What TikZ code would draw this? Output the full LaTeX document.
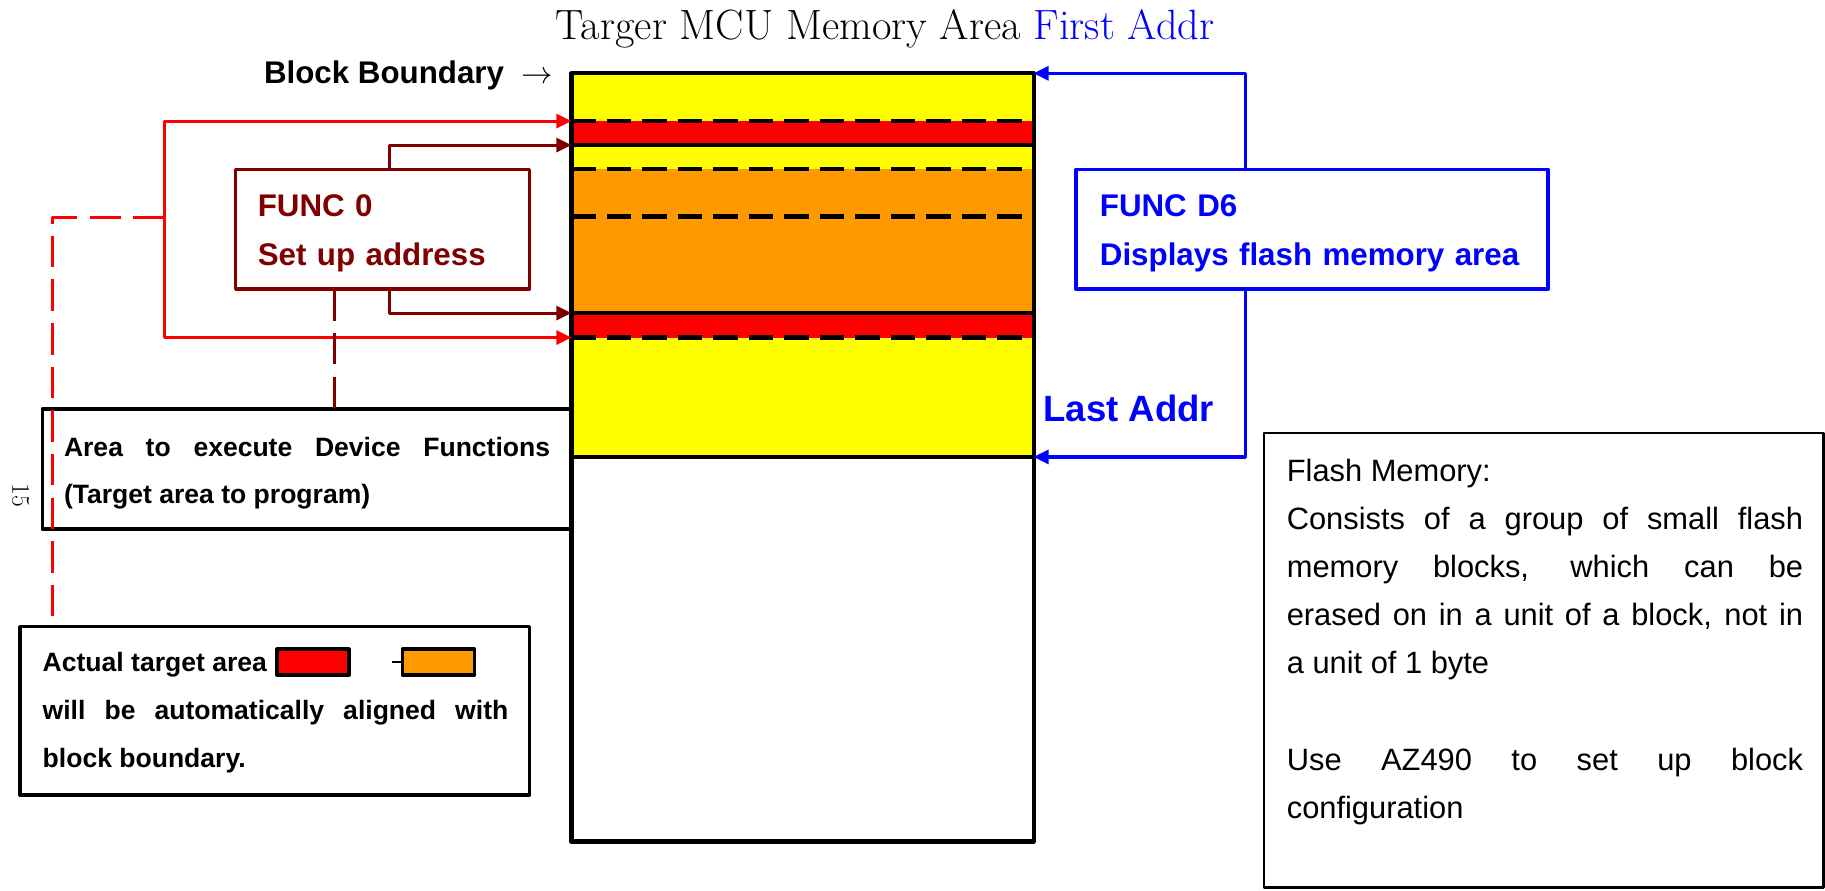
\documentclass[tikz,border=0pt]{standalone}
\usepackage{fix-cm}
\usepackage{fontspec}
\newfontfamily\arial{Liberation Sans}
\usetikzlibrary{arrows.meta}
\definecolor{memyellow}{RGB}{255,255,0}
\definecolor{memred}{RGB}{255,0,0}
\definecolor{memorange}{RGB}{255,153,0}
\definecolor{funcred}{RGB}{128,0,0}
\definecolor{funcblue}{RGB}{0,0,255}
\tolerance=10000
\hbadness=10000

\begin{document}
\begin{tikzpicture}[x=1pt, y=-1pt, line join=round,
    frame/.style={draw, line width=3pt, inner sep=0pt, outer sep=0pt, anchor=north west},
    bigsans/.style={font=\arial\bfseries\fontsize{26.9}{41.7}\selectfont, inner sep=0pt, outer sep=0pt, anchor=base west},
    smallsans/.style={font=\arial\bfseries\fontsize{22.8}{40.6}\selectfont, inner sep=0pt, outer sep=0pt, anchor=base west},
    tip/.style={-{Triangle[length=13pt,width=12pt]}},
    longdash/.style={dash pattern=on 27pt off 10.5pt},
    bound/.style={line width=3.5pt, dash pattern=on 21pt off 9.5pt}]
    \fill[white] (0,0) rectangle (1568,765);
    \useasboundingbox (0,0) rectangle (1568,765);
    %\draw[help lines, step=100] (0,0) grid (1568,765);

    \coordinate (b1) at (491,104);
    \coordinate (b2) at (491,124.6);
    \coordinate (b3) at (491,269);
    \coordinate (b4) at (491,290);
    \coordinate (rj) at (141.5,186.6);
    \coordinate (first) at (888,63);
    \coordinate (lastc) at (888,392.6);

    % memory area
    \foreach \ya/\yb/\c in {63/392.6/memyellow, 104/124.6/memred, 145/269/memorange, 269/290/memred}
        \fill[\c] (491,\ya) rectangle (888,\yb);
    \foreach \y in {104,145,186,290}
        \draw[bound] (491,\y) -- (888,\y);
    \foreach \y in {124.6,269,392.6}
        \draw[line width=3.5pt] (491,\y) -- (888,\y);
    \node[frame, line width=3.5pt, minimum width=397pt, minimum height=660pt] (mem) at (491,63) {};

    \node[font=\fontsize{36.4}{40}\selectfont, anchor=base, inner sep=0pt] (title) at (760.5,33.8)
        {Targer MCU Memory Area \textcolor{funcblue}{First Addr}};
    \node[bigsans, anchor=base east] (bb) at (475,71.5) {Block Boundary\hspace{15pt}$\rightarrow$};

    % boxes
    \node[frame, draw=funcred, minimum width=252.5pt, minimum height=103pt] (f0) at (202.5,145.5) {};
    \node[frame, draw=funcblue, minimum width=405.4pt, minimum height=103pt] (d6) at (924.6,145.5) {};
    \node[frame, minimum width=454.7pt, minimum height=103pt] (area) at (36.3,351.6) {};
    \node[frame, minimum width=438pt, minimum height=144.6pt] (leg) at (17,538.4) {};
    \node[frame, line width=2.5pt, minimum width=480.5pt, minimum height=390.8pt] (flash) at (1086,372) {};

    \node[bigsans, text=funcred, text width=230pt, align=left] (f0t) at (221.5,186) {FUNC 0\\Set up address};
    \node[bigsans, text=funcblue, text width=380pt, align=left] (d6t) at (945,186) {FUNC D6\\Displays flash memory area};
    \node[bigsans, font=\arial\bfseries\fontsize{31.4}{36}\selectfont, text=funcblue] (last) at (896.5,362.3) {Last Addr};
    \node[smallsans, text width=417.7pt, align=justify] (areat) at (55,391.8)
        {Area to execute Device Functions\linebreak (Target area to program)};
    \node[smallsans] (lega) at (36.7,577) {Actual target area};
    \node[smallsans, text width=400pt, align=justify] (legb) at (36.7,618.6)
        {will be automatically aligned with\linebreak block boundary.};
    \node[font=\arial\fontsize{26.5}{41.4}\selectfont, inner sep=0pt, anchor=base west, text width=443.6pt, align=justify] (flasht) at (1105.4,413.3)
        {Flash Memory:\\ Consists of a group of small flash\linebreak memory blocks, which can be\linebreak
         erased on in a unit of a block, not in\linebreak a unit of 1 byte\\[41.4pt]
         Use AZ490 to set up block\linebreak configuration};
    \node[rotate=-90, font=\fontsize{22}{22}\selectfont, inner sep=0pt] (pg) at (17.7,425.7) {15};

    % legend swatches
    \draw[line width=3pt, fill=memred] (237.8,557.8) rectangle (299.7,580);
    \draw[line width=1.5pt] (336.4,569) -- (345.8,569);
    \draw[line width=3pt, fill=memorange] (345.8,557.8) rectangle (407.7,580);

    % connectors
    \draw[memred, line width=2.6pt, tip] (rj) |- (b1);
    \draw[memred, line width=2.6pt, tip] (rj) |- (b4);
    \draw[memred, line width=2.4pt, longdash] (rj) -| (45,0 |- leg.north);
    \draw[funcred, line width=2.6pt, tip] (334.6,0 |- f0.north) |- (b2);
    \draw[funcred, line width=2.6pt, tip] (334.6,0 |- f0.south) |- (b3);
    \draw[funcred, line width=2.6pt, longdash] (287,0 |- f0.south) -- (287,0 |- area.north);
    \draw[funcblue, line width=2.8pt, tip] (1070,0 |- d6.north) |- (first);
    \draw[funcblue, line width=2.8pt, tip] (1070,0 |- d6.south) |- (lastc);
\end{tikzpicture}
\end{document}
